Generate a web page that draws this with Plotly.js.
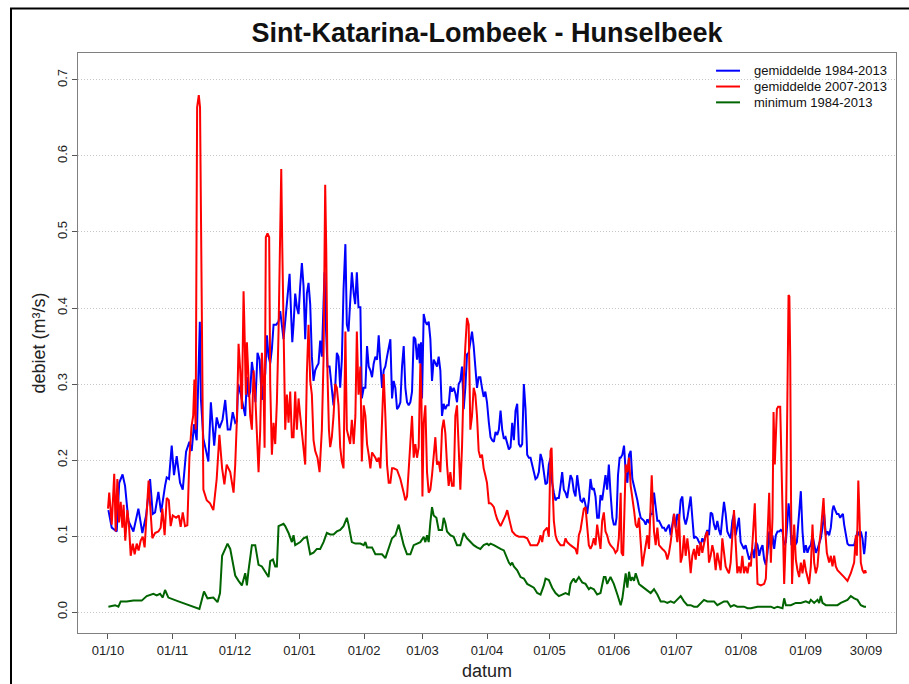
<!DOCTYPE html>
<html>
<head>
<meta charset="utf-8">
<script src="https://cdn.plot.ly/plotly-3.0.1.min.js"></script>
<style>
  body { margin: 0; background: #fff; }
  #grafiek { width: 909px; height: 684px; }
</style>
</head>
<body>
<div id="grafiek"></div>
<script>
// dag = dagen sinds 1 oktober, debiet in m3/s
let dagBlauw = [
  0.2,1.8,4.2,5.4,7,8.2,9.8,12.2,14.6,16.5,18.3,20.2,21.5,22.6,24.2,25.5,27.4,28.2,29.3,30.6,31.7,33,34.6,35.9,37.5,39.1,40.2,41.3,42.6,43.6,44.1,44.6,45.8,47.1,48.2,49.4,51,52.2,53.5,55,56.3,57.5,
  58.7,59.9,61.1,61.9,62.5,63.8,65.1,65.9,66.7,67.5,68.3,69.1,69.9,70.8,71.8,72.8,73.9,74.7,75.5,76.3,77.1,77.9,78.7,79.5,80.8,81.9,82.7,83.5,84.3,85.1,85.9,86.7,87.2,88,88.5,89.1,89.9,90.7,91.5,92.3,93.1,93.9,94.7,95.5,96.3,97.1,97.9,98.7,99.5,100.3,101.1,101.9,102.7,103.5,104,104.6,105.4,106.4,107.5,108.3,109.1,109.9,110.7,111.5,112.3,113.1,114,114.7,115.5,116.3,117.1,118,118.7,119.5,120.3,
  121.2,121.9,122.8,123.6,124.4,125.2,126,126.8,127.6,128.4,129.2,130,130.8,131.6,132.4,133.2,134,134.8,135.6,136.4,137.2,138,138.8,139.6,140.4,141.2,142,142.8,143.6,144.4,145.2,146,146.8,147.6,148.4,149.2,149.7,150.3,150.8,151.6,152.4,153.2,154,154.8,155.6,156.4,157.2,158,158.8,159.6,160.4,161.2,162,162.8,163.6,164.4,165.2,166,166.8,167.6,168.4,169.2,170,170.8,171.6,172.4,173.2,174,174.8,175.6,176.4,177.2,178,178.8,179.6,180.4,181.2,182,182.9,
  183.7,184.5,185.3,186.1,186.9,187.7,188.5,189.3,190.1,190.9,191.7,192.5,193.3,194.1,194.9,195.7,196.5,197.3,198.1,198.9,199.7,200.5,201.3,202.1,202.9,203.7,204.5,205.3,206.1,206.9,207.7,208.5,209.3,210.1,210.9,211.7,212.5,213.3,214.1,214.9,215.7,216.5,217.3,218.1,218.9,219.7,220.5,221.3,222.1,222.9,223.7,224.5,225.3,226.1,226.9,227.7,228.5,229.3,230.1,230.9,231.7,232.5,233.3,234.1,234.9,235.7,236.5,237.3,238.1,238.9,239.7,240.5,241.3,242.2,242.9,243.7,244.2,244.9,245.7,
  246.2,247,247.8,248.6,249.4,250.2,251,251.8,252.6,253.4,254.2,255,255.8,256.6,257.4,258.2,259,259.8,260.6,261.4,262.2,263,263.8,264.6,265.4,266.2,267,267.8,268.6,269.4,270.2,271,271.8,272.6,273.4,274.2,275,275.8,276.6,277.4,278.2,279,279.8,280.6,281.4,282.2,283,283.8,284.6,285.4,286.2,287,287.8,288.6,289.4,290.2,291,291.8,292.6,293.4,294.2,295,295.8,296.6,297.4,298.2,299,299.8,300.6,301.4,302.2,303,303.8,304.6,305.4,306.2,307.1,307.9,
  308.7,309.5,310.3,311.1,311.9,312.7,313.5,314.3,315.1,315.9,316.7,317.5,318.3,319.1,319.9,320.7,321.5,322.3,323.1,323.9,324.7,325.5,326.3,326.8,327.4,328.2,329.2,330,330.8,331.6,332.7,333.5,334.3,335.1,335.9,336.7,337.5,338.3,339.1,339.9,340.7,341.5,342.3,343.1,343.9,344.7,345.5,346.3,347.1,347.9,348.4,349.2,350,350.8,351.6,352.2,352.9,353.5,354.3,355.1,355.9,356.7,357.5,358.3,359.1,359.9,360.7,361.5,362.3,363.1,363.6,364
];
let blauw = [
  .134,.111,.106,.170,.181,.166,.120,.106,.136,.104,.127,.175,.129,.131,.158,.131,.166,.177,.175,.219,.180,.205,.170,.161,.211,.224,.212,.247,.226,.350,.382,.281,.228,.212,.198,.276,.219,.256,.242,.253,.279,.240,
  .240,.263,.249,.251,.300,.286,.267,.258,.309,.283,.290,.329,.313,.276,.341,.332,.279,.302,.313,.364,.336,.327,.346,.378,.378,.382,.396,.378,.359,.382,.405,.429,.445,.387,.355,.378,.419,.401,.392,.429,.459,.429,.359,.419,.433,.405,.336,.304,.318,.323,.327,.357,.336,.405,.447,.378,.323,.323,.295,.272,.295,.341,.336,.295,.332,.424,.484,.378,.369,.401,.447,.419,.405,.447,.401,
  .401,.281,.295,.295,.350,.323,.318,.309,.327,.336,.332,.364,.327,.295,.318,.323,.336,.350,.359,.281,.304,.295,.267,.270,.276,.323,.350,.295,.276,.272,.276,.290,.362,.359,.332,.353,.327,.355,.281,.392,.382,.378,.382,.359,.304,.332,.327,.323,.336,.318,.258,.274,.267,.272,.272,.297,.290,.295,.288,.276,.300,.304,.323,.267,.295,.339,.341,.359,.369,.350,.323,.295,.309,.309,.295,.283,.290,.276,.249,
  .230,.226,.224,.237,.233,.240,.265,.240,.228,.230,.221,.214,.217,.249,.226,.265,.274,.221,.217,.221,.300,.267,.207,.203,.203,.194,.184,.175,.177,.184,.208,.200,.184,.168,.170,.194,.203,.170,.157,.147,.150,.150,.166,.184,.161,.157,.150,.163,.180,.175,.159,.152,.180,.163,.147,.145,.150,.141,.129,.147,.175,.161,.163,.152,.124,.124,.154,.147,.166,.180,.161,.194,.157,.124,.115,.115,.124,.180,.203,
  .203,.207,.219,.184,.170,.207,.212,.175,.166,.159,.147,.134,.124,.122,.120,.115,.122,.117,.129,.129,.157,.138,.120,.120,.115,.111,.111,.106,.111,.115,.101,.115,.129,.111,.129,.120,.147,.152,.124,.115,.124,.138,.152,.124,.097,.099,.097,.092,.088,.097,.092,.101,.108,.101,.131,.129,.115,.108,.120,.108,.101,.124,.145,.129,.106,.101,.097,.120,.129,.101,.111,.124,.092,.088,.083,.088,.078,.069,
  .074,.083,.071,.092,.088,.074,.083,.088,.069,.062,.078,.106,.083,.101,.083,.101,.106,.106,.108,.106,.088,.092,.120,.143,.129,.088,.101,.088,.092,.120,.159,.106,.078,.088,.078,.085,.088,.101,.088,.078,.083,.092,.097,.111,.129,.101,.106,.101,.111,.134,.140,.134,.129,.129,.124,.127,.129,.115,.101,.090,.088,.088,.088,.088,.097,.106,.101,.106,.097,.076,.088,.106
];

let dagRood = [
  0,0.6,1.8,3,3.7,4.5,5.3,6.1,6.9,7.5,8.3,9.3,10.1,10.9,11.9,12.8,13.8,14.7,15.7,16.7,17.6,18.6,19.5,20.3,21.3,22.6,24.2,25.3,26.1,27.2,28.2,29.2,30.1,31.1,32.7,34,34.9,35.9,37,38.1,39.1,40.1,40.9,41.5,42.1,42.8,43.6,44.2,44.9,45.8,47.4,49,50.6,52.2,53.5,54.8,55.9,57,
  58.7,59.5,60.3,61.1,61.9,62.7,63.5,64.3,65.1,65.5,66.2,66.7,67.5,68.3,69.1,69.9,70.7,71.5,72.3,73.1,73.9,74.7,75.2,75.8,76.6,77.4,77.9,78.7,79.5,80.3,81.1,81.9,82.7,83.2,83.7,84.3,85.1,85.9,86.7,87.5,88.3,89.1,89.9,90.7,91.5,92.3,93.1,93.9,94.7,95.5,96.3,97.1,97.9,98.7,99.5,100.6,101.6,102.7,103.5,104.3,104.8,105.4,106.1,106.7,107.5,108.3,109.1,109.9,110.7,111.5,112.3,113.1,114,114.7,115.5,116.3,117.1,118,118.8,119.5,120.3,
  121.2,121.9,122.8,123.6,124.4,125.2,126,126.8,127.6,128.4,129.2,130,130.8,131.6,132.4,133.2,134,134.8,135.6,136.4,137.2,138.8,140.4,142,142.8,143.6,144.4,145.2,146,146.8,147.6,148.4,149.2,150,150.5,151,151.6,152.4,153.2,154,154.8,155.6,156.4,157.2,158,158.8,159.6,160.4,161.2,162,162.8,163.6,164.4,165.2,166,166.8,167.6,168.4,169.2,170,170.8,171.6,172.4,173.2,174,174.8,175.6,176.4,177.2,178,178.8,179.6,180.4,181.2,182,182.9,
  183.7,184.5,185.3,186.1,186.9,188.5,189.3,190.1,190.9,191.7,192.5,193.3,194.1,195.7,197.3,199.7,201.3,202.9,204.5,206.1,206.9,207.7,208.5,209.3,210.9,211.7,212.5,213,213.6,214.1,214.9,215.7,217.3,218.9,219.7,220.5,222.1,223.7,224.5,225.3,226.1,226.9,227.7,228.5,229.3,230.1,230.9,231.7,232.5,233.3,234.1,234.9,235.7,236.5,237.3,238.1,238.9,239.7,240.5,241.3,242.9,243.7,244.6,245.3,
  246.2,246.6,247.4,248.1,248.6,249.4,250.2,251,251.8,252.6,253.4,254.2,255,255.8,256.6,257.4,258.2,259,259.8,260.6,261.1,261.7,262.2,263,263.8,264.6,265.4,266.2,267,267.8,268.6,269.4,270.2,271,271.8,272.6,273.4,274.2,275,275.8,276.6,277.4,278.2,279,279.8,280.6,281.4,282.2,283,283.8,284.6,285.4,286.2,287,287.8,288.6,289.4,290.2,291,291.8,292.6,293.4,294.2,295,295.8,296.6,297.4,298.2,299,299.8,300.6,301.4,302.2,303,303.8,304.6,305.4,306.2,307.1,307.9,
  308.7,309.5,310.6,311.2,311.9,313.5,315.1,315.9,316.7,317.5,318.3,319.1,319.6,320.2,321.2,321.8,322.8,323.4,323.9,324.7,325.5,326.1,326.8,327.2,327.6,328,328.5,329.5,330.3,331.1,331.9,332.7,333.5,334.3,335.1,336.7,337.5,338.3,339.1,339.9,340.7,341.5,342.3,343.6,344.2,345.2,346.3,347.1,347.9,348.7,349.5,350.3,351.9,353.5,355.1,356.7,358.3,359.1,359.6,360.3,360.9,361.5,362.3,363.1,363.6,364
];
let rood = [
  .136,.157,.115,.182,.106,.175,.118,.145,.111,.141,.094,.134,.113,.074,.090,.076,.090,.081,.094,.099,.085,.127,.173,.138,.097,.104,.106,.111,.136,.101,.150,.147,.113,.127,.124,.127,.112,.131,.113,.114,.203,.244,.258,.306,.240,.664,.680,.664,.382,.161,.147,.143,.134,.175,.233,.189,.168,.194,
  .184,.170,.157,.194,.253,.353,.318,.267,.422,.378,.286,.355,.304,.258,.240,.318,.286,.221,.184,.240,.341,.295,.216,.493,.498,.493,.300,.207,.249,.221,.276,.369,.479,.583,.479,.359,.240,.286,.249,.290,.230,.230,.290,.240,.281,.258,.235,.212,.194,.313,.378,.304,.286,.226,.212,.203,.184,.240,.332,.562,.479,.313,.240,.217,.230,.258,.300,.295,.272,.217,.198,.189,.369,.240,.230,.221,.253,.221,.258,.369,.286,
  .323,.198,.272,.258,.221,.207,.189,.210,.207,.203,.198,.203,.189,.258,.313,.258,.194,.170,.170,.189,.189,.187,.175,.157,.147,.152,.184,.230,.258,.203,.221,.203,.217,.327,.286,.152,.249,.272,.184,.157,.161,.180,.203,.230,.194,.198,.184,.240,.253,.235,.194,.166,.184,.166,.166,.258,.272,.212,.161,.217,.304,.350,.387,.378,.240,.258,.295,.286,.258,.212,.203,.207,.189,.180,.170,.143,
  .143,.141,.138,.129,.122,.113,.117,.122,.127,.134,.122,.115,.106,.101,.099,.099,.097,.088,.088,.088,.092,.101,.092,.106,.111,.099,.212,.216,.157,.120,.101,.094,.088,.088,.097,.092,.088,.085,.083,.076,.101,.108,.120,.136,.138,.115,.088,.083,.088,.097,.088,.115,.101,.083,.120,.131,.106,.101,.092,.088,.083,.078,.081,.097,
  .157,.078,.074,.147,.194,.184,.203,.166,.152,.134,.115,.111,.124,.097,.060,.074,.088,.101,.083,.138,.180,.138,.106,.088,.111,.088,.085,.083,.081,.078,.069,.078,.092,.111,.129,.111,.092,.129,.065,.074,.101,.074,.097,.078,.051,.074,.083,.069,.088,.074,.092,.078,.088,.101,.106,.065,.074,.088,.078,.055,.078,.065,.055,.097,.074,.060,.055,.051,.065,.097,.134,.092,.051,.060,.051,.074,.051,.060,.051,.065,
  .060,.092,.143,.092,.037,.035,.037,.044,.101,.157,.065,.124,.263,.194,.267,.270,.270,.200,.101,.037,.101,.295,.417,.415,.336,.147,.037,.115,.069,.055,.046,.065,.051,.069,.055,.037,.060,.115,.065,.051,.060,.088,.106,.150,.115,.078,.065,.074,.060,.074,.060,.055,.051,.046,.041,.051,.065,.101,.074,.173,.124,.065,.055,.051,.055,.051
];

let dagGroen = [
  0.2,3.4,5,6.1,9,12.2,16.2,18.6,21.8,23.4,25,26.3,27.4,29,33.8,38.6,43.9,46.1,47.8,50.6,52.6,53.8,54.8,56.3,57.4,
  58.7,60.3,61.1,62.7,64.3,65.9,66.7,67.5,69.1,70.7,72.3,73.9,75.5,77.1,77.9,79.2,80.3,81.1,81.9,83.5,84.3,85.1,86.7,88.3,89.1,89.9,91.5,92.3,93.9,95.5,97.1,98.7,100.3,101.9,103.5,105.1,106.7,108.3,109.9,111.5,113.1,114.7,115.5,117.1,118.8,120.3,
  121.2,122.8,123.6,124.4,126.8,128.4,130,131.6,133.2,134.8,136.4,138,139.6,140.4,142,143.6,145.2,146.8,148.4,150,151.6,152.4,153.2,154,154.8,155.6,156.4,157.7,158.8,160.4,161.2,162,162.8,164.4,166,167.6,169.2,170.8,172.4,174,175.6,177.2,178.8,180.4,182,182.9,
  183.7,185.3,186.9,188.5,190.1,191.7,192.5,193.3,194.1,194.9,196.5,198.1,199.7,201.3,202.9,204.5,206.1,207.7,209.3,210.1,211.7,213.3,214.9,216.5,218.1,219.7,221.3,222.1,222.9,223.7,224.5,226.1,227.7,229.3,230.9,231.7,233.3,234.9,236.5,238.1,238.9,239.7,241.3,242.9,244.6,
  246.2,247,247.8,248.6,249.4,250.2,251,251.8,252.6,253.4,254.2,255,255.8,257.4,259,260.6,262.2,263.8,265.4,267,268.6,270.2,271.8,273.4,275,276.6,278.2,279.8,281.4,283,284.6,286.2,287.8,289.4,291,292.6,294.2,295.8,297.4,299,300.6,302.2,303.8,305.4,307.1,
  308.7,311.9,315.1,318.3,319.9,321.5,323.9,324.7,325.5,327.9,330.3,332.7,335.1,336.7,337.5,339.1,340.7,341.5,342.3,343.1,344.7,347.1,350.3,351.9,353.5,355.1,356.7,357.5,358.3,359.9,361.5,363.1,364
];
let groen = [
  .007,.009,.007,.014,.014,.015,.015,.021,.024,.022,.024,.019,.029,.019,.014,.009,.004,.027,.018,.019,.013,.025,.074,.083,.090,
  .083,.060,.048,.041,.035,.051,.035,.055,.088,.088,.062,.060,.053,.046,.067,.069,.060,.060,.113,.115,.116,.113,.104,.092,.101,.088,.090,.092,.097,.099,.076,.078,.083,.083,.092,.104,.102,.102,.106,.108,.113,.124,.115,.092,.090,.090,
  .090,.088,.092,.085,.085,.076,.076,.076,.071,.083,.097,.101,.115,.106,.088,.076,.076,.088,.090,.092,.099,.092,.101,.092,.118,.138,.127,.124,.108,.108,.124,.117,.106,.101,.099,.088,.088,.104,.097,.092,.088,.085,.083,.088,.090,.088,
  .090,.088,.085,.083,.081,.069,.065,.062,.065,.060,.055,.046,.044,.037,.035,.032,.025,.023,.035,.044,.042,.032,.025,.021,.023,.025,.023,.037,.041,.044,.039,.046,.039,.037,.030,.032,.030,.023,.025,.046,.046,.037,.046,.037,.023,
  .009,.018,.037,.051,.032,.053,.041,.046,.041,.051,.044,.037,.035,.032,.028,.025,.030,.023,.014,.014,.012,.014,.012,.016,.021,.014,.009,.009,.007,.007,.012,.016,.014,.014,.014,.009,.012,.014,.014,.007,.009,.007,.007,.007,.005,
  .005,.007,.007,.007,.005,.007,.005,.018,.009,.009,.012,.012,.014,.012,.016,.012,.016,.012,.021,.012,.009,.009,.009,.012,.014,.016,.021,.019,.018,.016,.009,.007,.007
];

let maandDagen = [0, 31, 61, 92, 123, 151, 182, 212, 243, 273, 304, 335, 364];
let maandLabels = ["01/10", "01/11", "01/12", "01/01", "01/02", "01/03", "01/04", "01/05", "01/06", "01/07", "01/08", "01/09", "30/09"];
let reeksNamen = ["gemiddelde 1984-2013", "gemiddelde 2007-2013", "minimum 1984-2013"];
let reeksKleuren = ["#0000ff", "#ff0000", "#006400"];

function lijn(dagen, waarden, naam, kleur) {
  return {
    x: dagen,
    y: waarden,
    name: naam,
    type: "scatter",
    mode: "lines",
    line: {color: kleur, width: 2},
    showlegend: false
  };
}

// legende zoals in R (bty="n"): korte lijn + tekst, rechtsboven in het plotvlak
function legende() {
  let lijnen = [];
  let teksten = [];
  for (let i = 0; i < reeksNamen.length; i++) {
    let y = 0.9695 - i * 0.0273;
    lijnen.push({
      type: "line", xref: "paper", yref: "paper",
      x0: 0.780, x1: 0.8093, y0: y, y1: y,
      line: {color: reeksKleuren[i], width: 2}
    });
    teksten.push({
      text: reeksNamen[i], xref: "paper", yref: "paper",
      x: 0.8235, y: y, xanchor: "left", yanchor: "middle",
      showarrow: false, font: {size: 13, color: "#111"}
    });
  }
  return {lijnen: lijnen, teksten: teksten};
}

function tekenGrafiek() {
  let data = [
    lijn(dagBlauw, blauw, reeksNamen[0], reeksKleuren[0]),
    lijn(dagRood, rood, reeksNamen[1], reeksKleuren[1]),
    lijn(dagGroen, groen, reeksNamen[2], reeksKleuren[2])
  ];
  let leg = legende();
  let boxKleur = "#808080";
  let tickKleur = "#555";
  let layout = {
    width: 909,
    height: 684,
    margin: {l: 78, r: 13, t: 53, b: 51},
    paper_bgcolor: "white",
    plot_bgcolor: "white",
    font: {family: '"Liberation Sans", Arial, sans-serif', color: "#222", size: 13},
    title: {
      text: "Sint-Katarina-Lombeek - Hunselbeek",
      font: {size: 27, weight: "bold", color: "#111"},
      xref: "container", yref: "container",
      x: 0.5358, xanchor: "center",
      y: 0.952, yanchor: "middle"
    },
    showlegend: false,
    xaxis: {
      range: [-14.4, 378.4],
      tickvals: maandDagen,
      ticktext: maandLabels,
      ticks: "outside", ticklen: 5, tickcolor: tickKleur,
      showline: true, mirror: true, linecolor: boxKleur, linewidth: 1,
      showgrid: false, zeroline: false,
      tickfont: {size: 13, color: "#222"},
      title: {text: "datum", font: {size: 18, color: "#222"}, standoff: 7}
    },
    yaxis: {
      range: [-0.0276, 0.7355],
      tick0: 0, dtick: 0.1, tickformat: ".1f",
      tickangle: -90,
      ticks: "outside", ticklen: 5, tickcolor: tickKleur,
      showline: true, mirror: true, linecolor: boxKleur, linewidth: 1,
      showgrid: true, gridcolor: "#c8c8c8", griddash: "1px,2px", gridwidth: 1,
      zeroline: false,
      tickfont: {size: 13, color: "#222"},
      title: {text: "debiet (m³/s)", font: {size: 18, color: "#222"}, standoff: 4}
    },
    annotations: leg.teksten,
    shapes: [{
      type: "rect", xref: "paper", yref: "paper",
      x0: -0.0819, x1: 1.3, y0: -0.3, y1: 1.0767,
      line: {color: "black", width: 2}
    }].concat(leg.lijnen)
  };
  Plotly.newPlot("grafiek", data, layout, {displayModeBar: false, staticPlot: true});
}

tekenGrafiek();
</script>
</body>
</html>
